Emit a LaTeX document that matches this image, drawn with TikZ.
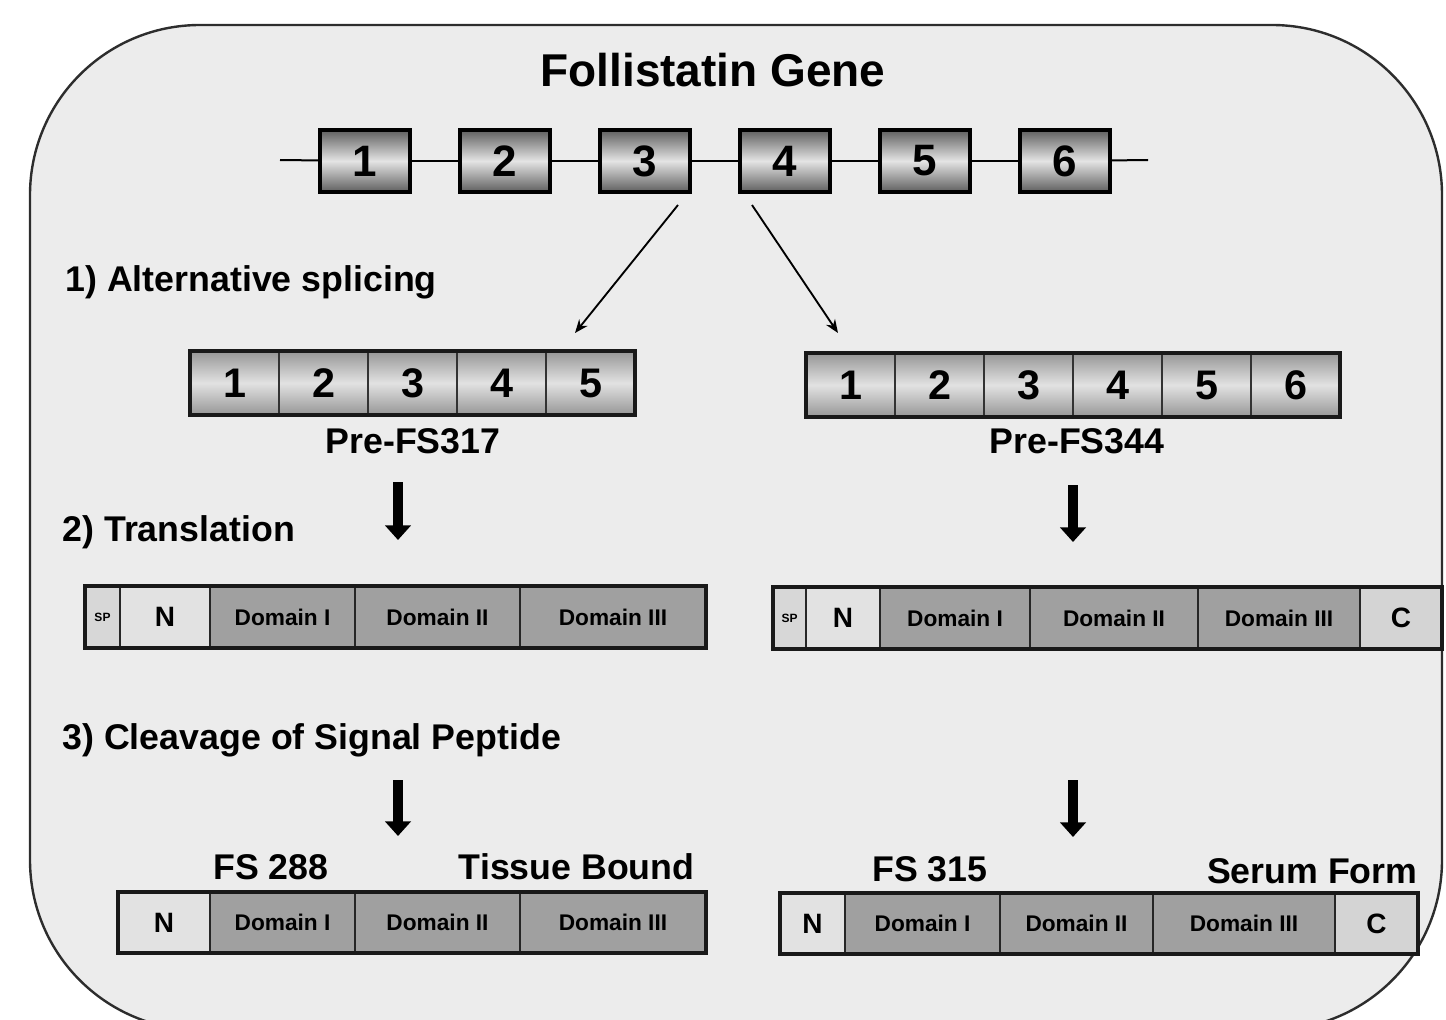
\documentclass[tikz,border=0pt]{standalone}
\usepackage{fontspec}
\setmainfont{Liberation Sans}
\usetikzlibrary{arrows.meta}

\definecolor{bgfill}{RGB}{236,236,236}
\definecolor{framecol}{RGB}{45,45,45}
\definecolor{exdark}{RGB}{95,95,95}
\definecolor{exlight}{RGB}{228,228,228}
\definecolor{tdark}{RGB}{150,150,150}
\definecolor{tlight}{RGB}{226,226,226}
\definecolor{domfill}{RGB}{160,160,160}
\definecolor{nfill}{RGB}{226,226,226}
\definecolor{cfill}{RGB}{212,212,212}
\definecolor{spfill}{RGB}{215,215,215}

\tikzset{every picture/.style={line width=0.75pt}}
\tikzset{
  exon/.style={draw=black, line width=2.4pt, top color=exdark, bottom color=exdark, middle color=exlight,
    minimum width=67.5pt, minimum height=46.5pt, inner sep=0pt, outer sep=0pt, font=\fontsize{33}{33}\selectfont\bfseries},
  tcell/.style={draw=black!80, line width=1.2pt, top color=tdark, bottom color=tdark, middle color=tlight,
    minimum width=66.75pt, minimum height=48pt, inner sep=0pt, outer sep=0pt, font=\fontsize{31}{31}\selectfont\bfseries},
  pcell/.style={draw=black!85, line width=1.2pt, minimum height=46pt, inner sep=0pt, outer sep=0pt},
  cellw/.style={minimum width=#1*0.75pt},
  sigpep/.style={pcell, fill=spfill, font=\fontsize{9}{9}\selectfont\bfseries},
  endcell/.style={pcell, fill=nfill, font=\fontsize{21}{21}\selectfont\bfseries},
  domcell/.style={pcell, fill=domfill, font=\fontsize{17}{17}\selectfont\bfseries},
  barframe/.style={draw=black!90, line width=3pt},
  sectext/.style={anchor=base west, inner sep=0pt, font=\fontsize{26.8}{30}\selectfont\bfseries},
  formname/.style={anchor=base, inner sep=0pt, font=\fontsize{26.8}{30}\selectfont\bfseries},
  thinarrow/.style={line width=1.4pt, -{Stealth[length=10pt,width=8pt]}},
  fatarrow/.style={line width=8pt, -{Triangle[length=11pt,width=19pt]}},
}

\begin{document}
\begin{tikzpicture}[x=0.75pt,y=0.75pt,yscale=-1,xscale=1]
\useasboundingbox (0,0) rectangle (1446,1020);

%Rounded frame
\draw [draw=framecol, fill=bgfill, line width=1.8pt, rounded corners=127.5pt] (30,25) rectangle (1442,1030);

% Text Node
\node [anchor=base, inner sep=0pt, font=\fontsize{34.5}{38}\selectfont\bfseries] (title) at (713,87) {Follistatin Gene};

%Gene exons
\coordinate (gl) at (280,160);
\coordinate (gr) at (1148,160);
\foreach \i in {1,...,6}
  \node [exon] (g\i) at ({365+140*(\i-1)},161) {\i};
\draw [line width=1.5pt] (gl) -- (g1);
\foreach \a/\b in {1/2,2/3,3/4,4/5,5/6}
  \draw [line width=1.5pt] (g\a) -- (g\b);
\draw [line width=1.5pt] (g6) -- (gr);

% Text Node
\node [sectext] (h1) at (65,291) {1) Alternative splicing};

%Splicing arrows
\coordinate (sl1) at (678,205);
\coordinate (sl2) at (575,333);
\coordinate (sr1) at (752,205);
\coordinate (sr2) at (838,333);
\draw [thinarrow] (sl1) -- (sl2);
\draw [thinarrow] (sr1) -- (sr2);

%Pre-FS317 transcript
\foreach \i in {1,...,5}
  \node [tcell] (a\i) at ({234.5+89*(\i-1)},383) {\i};
\draw [barframe] (a1.north west) rectangle (a5.south east);
\node [formname] (n317) at (413,453) {Pre-FS317};

%Pre-FS344 transcript
\foreach \i in {1,...,6}
  \node [tcell] (b\i) at ({850.5+89*(\i-1)},385) {\i};
\draw [barframe] (b1.north west) rectangle (b6.south east);
\node [formname] (n344) at (1077,453) {Pre-FS344};

% Text Node
\node [sectext] (h2) at (62,541) {2) Translation};

%Translation arrows
\coordinate (tl1) at (398,482);
\coordinate (tl2) at (398,540);
\coordinate (tr1) at (1073,485);
\coordinate (tr2) at (1073,542);
\draw [fatarrow] (tl1) -- (tl2);
\draw [fatarrow] (tr1) -- (tr2);

%FS317 protein
\node [sigpep, cellw=35] (p1) at (102.5,617) {SP};
\node [endcell, cellw=90] (p2) at (165,617) {N};
\node [domcell, cellw=145] (p3) at (282.5,617) {Domain I};
\node [domcell, cellw=165] (p4) at (437.5,617) {Domain II};
\node [domcell, cellw=186] (p5) at (613,617) {Domain III};
\draw [barframe] (p1.north west) rectangle (p5.south east);

%FS344 protein
\node [sigpep, cellw=33] (q1) at (789.5,618) {SP};
\node [endcell, cellw=74] (q2) at (843,618) {N};
\node [domcell, cellw=150] (q3) at (955,618) {Domain I};
\node [domcell, cellw=168] (q4) at (1114,618) {Domain II};
\node [domcell, cellw=162] (q5) at (1279,618) {Domain III};
\node [endcell, fill=cfill, cellw=82] (q6) at (1401,618) {C};
\draw [barframe] (q1.north west) rectangle (q6.south east);

% Text Node
\node [sectext] (h3) at (62,749) {3) Cleavage of Signal Peptide};

%Cleavage arrows
\coordinate (cl1) at (398,780);
\coordinate (cl2) at (398,836);
\coordinate (cr1) at (1073,780);
\coordinate (cr2) at (1073,837);
\draw [fatarrow] (cl1) -- (cl2);
\draw [fatarrow] (cr1) -- (cr2);

% Text Node
\node [formname] (fs288) at (271,879) {FS 288};
\node [formname, anchor=base east] (tissue) at (695,879) {Tissue Bound};
\node [formname] (fs315) at (930,881) {FS 315};
\node [formname, anchor=base east] (serum) at (1418,883) {Serum Form};

%FS288 protein
\node [endcell, cellw=92] (r1) at (164,922.5) {N};
\node [domcell, cellw=145] (r2) at (282.5,922.5) {Domain I};
\node [domcell, cellw=165] (r3) at (437.5,922.5) {Domain II};
\node [domcell, cellw=186] (r4) at (613,922.5) {Domain III};
\draw [barframe] (r1.north west) rectangle (r4.south east);

%FS315 protein
\node [endcell, cellw=65] (s1) at (812.5,923.5) {N};
\node [domcell, cellw=155] (s2) at (922.5,923.5) {Domain I};
\node [domcell, cellw=153] (s3) at (1076.5,923.5) {Domain II};
\node [domcell, cellw=182] (s4) at (1244,923.5) {Domain III};
\node [endcell, fill=cfill, cellw=83] (s5) at (1376.5,923.5) {C};
\draw [barframe] (s1.north west) rectangle (s5.south east);

\end{tikzpicture}
\end{document}
